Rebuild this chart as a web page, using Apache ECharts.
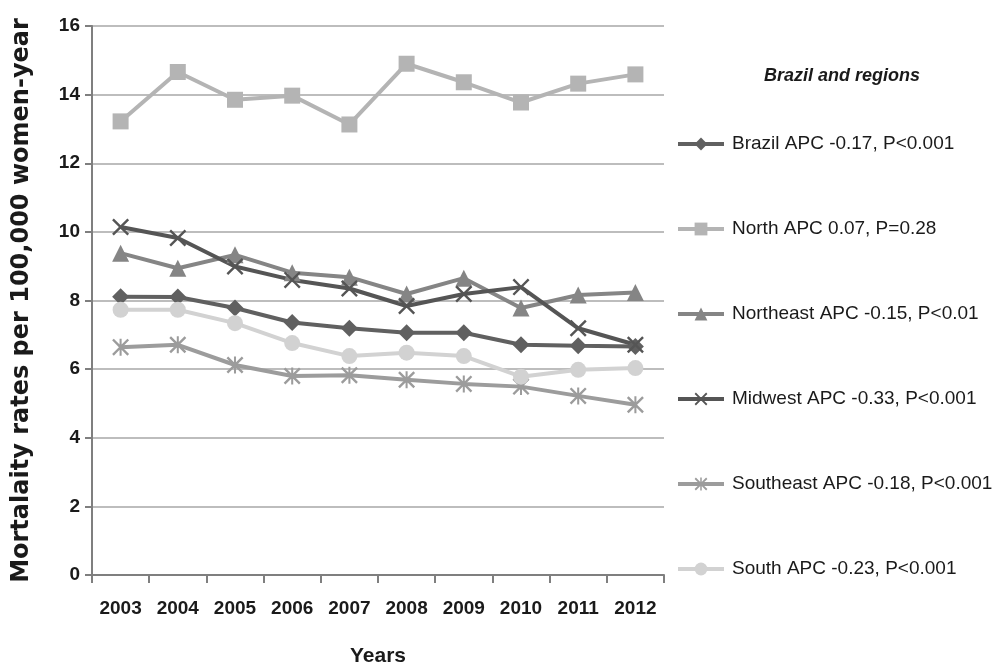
<!DOCTYPE html>
<html>
<head>
<meta charset="utf-8">
<script src="https://cdn.jsdelivr.net/npm/echarts@6/dist/echarts.min.js"></script>
<style>
  html, body { margin: 0; padding: 0; background: #fff; }
  #chart { width: 997px; height: 669px; }
</style>
</head>
<body>
<div id="chart"></div>
<script>
// Years on the x axis
const years = ['2003', '2004', '2005', '2006', '2007', '2008', '2009', '2010', '2011', '2012'];

// Mortality rates per 100,000 women-year
const brazil    = [8.11, 8.10, 7.78, 7.36, 7.19, 7.06, 7.06, 6.71, 6.68, 6.66];
const north     = [13.22, 14.66, 13.85, 13.97, 13.13, 14.90, 14.36, 13.77, 14.32, 14.59];
const northeast = [9.38, 8.94, 9.33, 8.81, 8.68, 8.19, 8.65, 7.78, 8.16, 8.23];
const midwest   = [10.14, 9.82, 8.99, 8.60, 8.35, 7.84, 8.19, 8.39, 7.19, 6.71];
const southeast = [6.64, 6.71, 6.12, 5.80, 5.82, 5.69, 5.57, 5.49, 5.22, 4.96];
const south     = [7.73, 7.73, 7.34, 6.76, 6.38, 6.48, 6.38, 5.78, 5.98, 6.03];

// Legend labels
const seriesNames = [
  'Brazil APC -0.17, P<0.001',
  'North APC 0.07, P=0.28',
  'Northeast APC -0.15, P<0.01',
  'Midwest APC -0.33, P<0.001',
  'Southeast APC -0.18, P<0.001',
  'South APC -0.23, P<0.001'
];

// Marker shapes: a cross and an asterisk
const crossPath = 'path://M0,1 L1,0 L5,4 L9,0 L10,1 L6,5 L10,9 L9,10 L5,6 L1,10 L0,9 L4,5 Z';
const starPath = 'path://M0,1 L1,0 L5,4 L9,0 L10,1 L6,5 L10,9 L9,10 L5,6 L1,10 L0,9 L4,5 Z M4.4,0 L5.6,0 L5.6,10 L4.4,10 Z';

const sans = '"Liberation Sans", Arial, sans-serif';

function line(name, data, color, symbol, size) {
  return {
    name: name,
    type: 'line',
    data: data,
    symbol: symbol,
    symbolSize: size,
    color: color,
    lineStyle: { color: color, width: 4 },
    itemStyle: { color: color },
    emphasis: { disabled: true },
    animation: false
  };
}

const chart = echarts.init(document.getElementById('chart'), null, { renderer: 'canvas' });
chart.setOption({
  backgroundColor: '#ffffff',
  title: {
    text: 'Brazil and regions',
    left: 759,
    top: 62,
    textStyle: {
      fontFamily: sans,
      fontSize: 18,
      fontWeight: 'bold',
      fontStyle: 'italic',
      color: '#1a1a1a'
    }
  },
  legend: {
    orient: 'vertical',
    left: 671,
    top: 127,
    itemWidth: 46,
    itemHeight: 16,
    itemGap: 61,
    selectedMode: false,
    lineStyle: { width: 4 },
    textStyle: {
      fontFamily: sans,
      fontSize: 19,
      lineHeight: 24,
      color: '#1a1a1a',
      padding: [0, 0, 0, 3]
    },
    data: seriesNames
  },
  grid: { left: 92, right: 333, top: 26, bottom: 94, containLabel: false, outerBoundsMode: 'none' },
  xAxis: {
    type: 'category',
    data: years,
    boundaryGap: true,
    name: 'Years',
    nameLocation: 'middle',
    nameGap: 71,
    nameTextStyle: { fontFamily: sans, fontSize: 21, fontWeight: 'bold', color: '#1a1a1a' },
    axisLine: { lineStyle: { color: '#7f7f7f', width: 2 } },
    axisTick: { show: true, length: 8, lineStyle: { color: '#7f7f7f', width: 2 } },
    axisLabel: { interval: 0, fontFamily: sans, fontSize: 19, fontWeight: 'bold', color: '#1a1a1a', margin: 24 }
  },
  yAxis: {
    type: 'value',
    min: 0,
    max: 16,
    interval: 2,
    name: 'Mortalaity rates per 100,000 women-year',
    nameLocation: 'middle',
    nameGap: 58,
    nameTextStyle: { fontFamily: '"DejaVu Sans", sans-serif', fontSize: 24, fontWeight: 'bold', color: '#1a1a1a' },
    axisLine: { show: true, lineStyle: { color: '#7f7f7f', width: 2 } },
    axisTick: { show: true, length: 7, lineStyle: { color: '#7f7f7f', width: 2 } },
    splitLine: { lineStyle: { color: '#bdbdbd', width: 2 } },
    axisLabel: { fontFamily: sans, fontSize: 19, fontWeight: 'bold', color: '#1a1a1a', margin: 12 }
  },
  series: [
    line(seriesNames[0], brazil, '#606060', 'diamond', 17),
    line(seriesNames[1], north, '#b4b4b4', 'rect', 16),
    line(seriesNames[2], northeast, '#858585', 'triangle', 17),
    line(seriesNames[3], midwest, '#555555', crossPath, 17),
    line(seriesNames[4], southeast, '#9c9c9c', starPath, 17),
    line(seriesNames[5], south, '#d2d2d2', 'circle', 16)
  ]
});
</script>
</body>
</html>
